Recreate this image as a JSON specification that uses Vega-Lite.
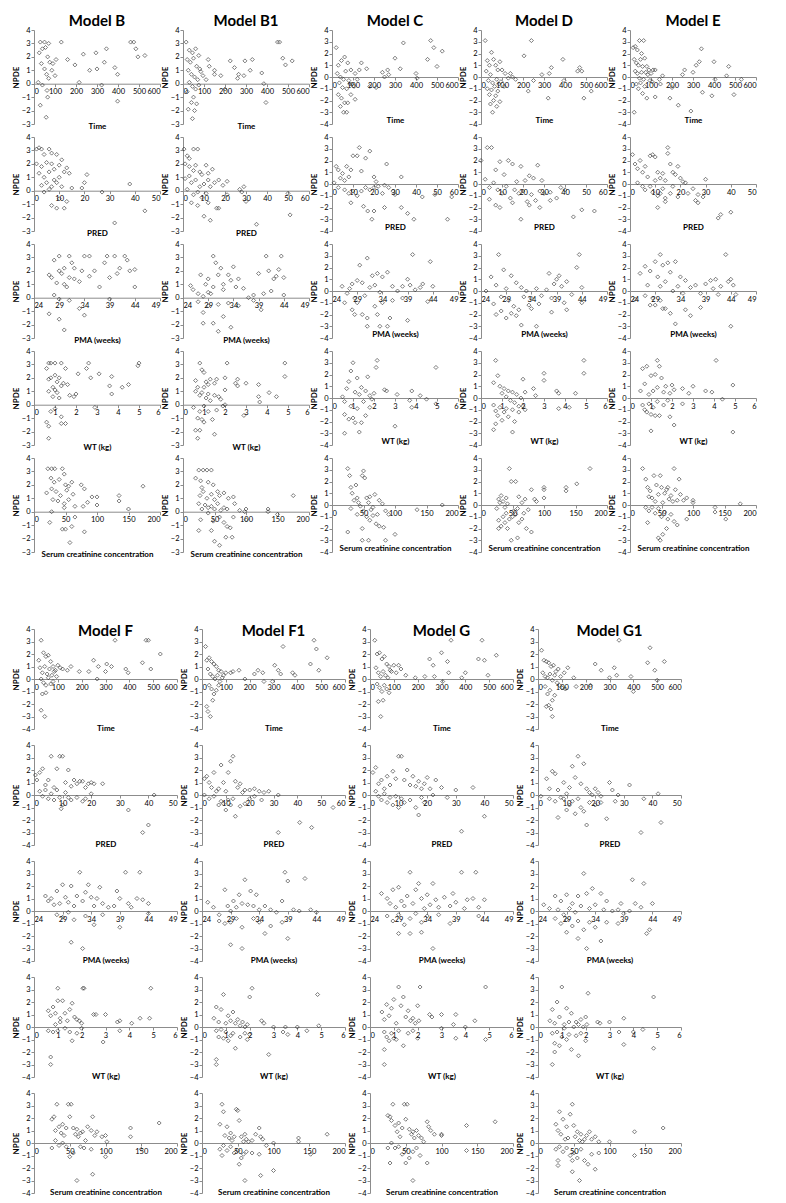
{
"$schema":"https://vega.github.io/schema/vega-lite/v6.json",
"background":"white",
"padding":{"left":12,"top":14,"right":5,"bottom":3},
"spacing":65,
"config":{
"view":{"stroke":null},
"font":"Lato",
"axis":{"grid":false,"domainColor":"#8c8c8c","domainWidth":1,"tickColor":"#8c8c8c","tickSize":3,"labelFont":"Lato","labelFontSize":7.5,"labelColor":"#000","labelPadding":1,"labelOverlap":false,"labelFlush":true,"titleFont":"Lato","titleFontSize":8,"titleFontWeight":"bold","titleColor":"#000"},
"axisX":{"titleBaseline":"middle"},
"axisY":{"titlePadding":1,"tickCount":8,"labelFlush":false},
"point":{"shape":"diamond","filled":false,"color":"#222","size":16,"strokeWidth":0.65,"opacity":0.9},
"title":{"font":"Lato","fontSize":15,"fontWeight":"bold","color":"#000","offset":-3}
},
"datasets":{
"BT":[{"x":30,"y":3.1},{"x":50,"y":3.1},{"x":70,"y":3.0},{"x":130,"y":3.1},{"x":25,"y":2.3},{"x":40,"y":2.6},{"x":55,"y":2.7},{"x":65,"y":2.0},{"x":75,"y":1.6},{"x":90,"y":1.5},{"x":105,"y":1.8},{"x":35,"y":1.5},{"x":50,"y":1.1},{"x":60,"y":0.7},{"x":70,"y":0.4},{"x":85,"y":1.0},{"x":100,"y":0.6},{"x":20,"y":0.1},{"x":40,"y":-0.1},{"x":62,"y":-0.5},{"x":65,"y":-1.0},{"x":30,"y":-1.6},{"x":58,"y":-2.5},{"x":160,"y":1.8},{"x":195,"y":1.4},{"x":215,"y":0.1},{"x":235,"y":2.2},{"x":265,"y":1.0},{"x":295,"y":2.3},{"x":300,"y":1.1},{"x":322,"y":-0.1},{"x":335,"y":1.6},{"x":345,"y":2.6},{"x":385,"y":1.2},{"x":398,"y":0.7},{"x":398,"y":-1.3},{"x":460,"y":3.1},{"x":475,"y":3.1},{"x":485,"y":2.6},{"x":495,"y":2.0},{"x":528,"y":2.1}],
"BP":[{"x":1,"y":3.1},{"x":2,"y":3.2},{"x":3,"y":3.1},{"x":4,"y":2.7},{"x":6,"y":3.1},{"x":7,"y":2.8},{"x":9,"y":2.7},{"x":11,"y":2.3},{"x":1,"y":2.0},{"x":3,"y":1.8},{"x":5,"y":2.1},{"x":7,"y":2.0},{"x":8,"y":1.6},{"x":10,"y":1.9},{"x":12,"y":1.4},{"x":13,"y":1.7},{"x":2,"y":1.3},{"x":4,"y":1.0},{"x":6,"y":1.4},{"x":8,"y":0.8},{"x":10,"y":1.0},{"x":14,"y":1.3},{"x":3,"y":0.4},{"x":5,"y":0.6},{"x":7,"y":0.3},{"x":9,"y":0.6},{"x":11,"y":0.3},{"x":4,"y":-0.1},{"x":6,"y":0.1},{"x":15,"y":0.2},{"x":7,"y":-1.1},{"x":9,"y":-1.3},{"x":12,"y":-1.3},{"x":13,"y":-0.8},{"x":10,"y":-0.6},{"x":21,"y":1.2},{"x":20,"y":0.6},{"x":19,"y":0.2},{"x":27,"y":-0.1},{"x":38,"y":0.5},{"x":32,"y":-2.4},{"x":44,"y":-1.5}],
"BA":[{"x":27,"y":1.7},{"x":27.5,"y":1.5},{"x":28,"y":2.8},{"x":28.5,"y":1.1},{"x":29,"y":3.1},{"x":29,"y":2.0},{"x":29.5,"y":1.8},{"x":30,"y":2.2},{"x":30,"y":1.0},{"x":30.5,"y":0.8},{"x":31,"y":3.1},{"x":31,"y":1.5},{"x":31.5,"y":2.6},{"x":32,"y":1.4},{"x":32,"y":2.2},{"x":33,"y":1.2},{"x":33.5,"y":2.0},{"x":34,"y":3.1},{"x":35,"y":1.6},{"x":35,"y":3.1},{"x":36,"y":2.0},{"x":37,"y":0.8},{"x":38,"y":2.6},{"x":38.5,"y":3.1},{"x":39,"y":1.5},{"x":40,"y":3.1},{"x":40.5,"y":1.8},{"x":41,"y":2.2},{"x":42,"y":3.1},{"x":42.5,"y":2.8},{"x":43,"y":2.0},{"x":44,"y":2.1},{"x":44,"y":0.8},{"x":28,"y":0.2},{"x":29,"y":-0.1},{"x":31,"y":-0.2},{"x":33,"y":-0.8},{"x":34,"y":-1.3},{"x":27,"y":-1.2},{"x":29,"y":-1.6},{"x":30,"y":-2.4},{"x":39,"y":-0.1}],
"BW":[{"x":0.6,"y":2.7},{"x":0.7,"y":3.1},{"x":0.8,"y":3.1},{"x":1.0,"y":3.1},{"x":1.3,"y":3.1},{"x":1.5,"y":2.7},{"x":0.7,"y":1.9},{"x":0.8,"y":2.0},{"x":0.9,"y":1.3},{"x":1.0,"y":2.2},{"x":1.1,"y":1.7},{"x":1.2,"y":2.0},{"x":1.3,"y":1.4},{"x":1.4,"y":1.6},{"x":1.6,"y":1.5},{"x":0.7,"y":1.0},{"x":0.9,"y":0.6},{"x":1.0,"y":1.1},{"x":1.1,"y":0.9},{"x":1.2,"y":0.5},{"x":1.7,"y":0.7},{"x":1.9,"y":0.6},{"x":2.0,"y":0.8},{"x":2.1,"y":2.3},{"x":2.5,"y":2.7},{"x":2.6,"y":3.1},{"x":2.7,"y":2.0},{"x":3.1,"y":2.3},{"x":3.6,"y":1.4},{"x":3.7,"y":0.8},{"x":3.7,"y":2.1},{"x":4.2,"y":1.3},{"x":4.5,"y":1.5},{"x":4.95,"y":2.9},{"x":5.0,"y":3.1},{"x":2.9,"y":-0.2},{"x":0.8,"y":-0.5},{"x":1.0,"y":-0.3},{"x":1.3,"y":-0.9},{"x":0.6,"y":-1.3},{"x":0.7,"y":-1.6},{"x":1.5,"y":-1.4},{"x":1.3,"y":-1.4},{"x":0.7,"y":-2.5}],
"BS":[{"x":22,"y":3.2},{"x":28,"y":3.2},{"x":33,"y":3.2},{"x":45,"y":3.2},{"x":48,"y":2.8},{"x":27,"y":2.5},{"x":32,"y":2.2},{"x":40,"y":2.4},{"x":50,"y":2.0},{"x":55,"y":1.9},{"x":60,"y":2.2},{"x":28,"y":1.7},{"x":35,"y":1.5},{"x":42,"y":1.2},{"x":52,"y":1.6},{"x":62,"y":1.3},{"x":75,"y":2.0},{"x":80,"y":1.7},{"x":20,"y":1.4},{"x":30,"y":0.9},{"x":38,"y":0.8},{"x":48,"y":0.6},{"x":55,"y":0.9},{"x":65,"y":0.4},{"x":78,"y":0.4},{"x":85,"y":0.7},{"x":92,"y":1.1},{"x":100,"y":1.1},{"x":100,"y":0.5},{"x":135,"y":1.2},{"x":135,"y":0.8},{"x":150,"y":0.2},{"x":173,"y":1.9},{"x":28,"y":0.0},{"x":48,"y":0.3},{"x":25,"y":-0.8},{"x":65,"y":-0.4},{"x":60,"y":-1.1},{"x":45,"y":-1.3},{"x":50,"y":-1.3},{"x":80,"y":-1.5},{"x":57,"y":-2.3}],
"B1T":[{"x":15,"y":3.1},{"x":30,"y":2.5},{"x":45,"y":2.3},{"x":60,"y":2.6},{"x":75,"y":2.1},{"x":20,"y":1.8},{"x":35,"y":1.6},{"x":50,"y":1.9},{"x":65,"y":1.3},{"x":80,"y":1.1},{"x":95,"y":0.6},{"x":110,"y":0.3},{"x":25,"y":1.0},{"x":40,"y":0.7},{"x":55,"y":0.5},{"x":70,"y":0.3},{"x":85,"y":0.9},{"x":30,"y":0.1},{"x":45,"y":-0.2},{"x":60,"y":-0.4},{"x":75,"y":-0.1},{"x":20,"y":-0.6},{"x":50,"y":-1.0},{"x":65,"y":-1.5},{"x":40,"y":-1.4},{"x":25,"y":-1.9},{"x":55,"y":-2.0},{"x":45,"y":-2.6},{"x":120,"y":1.8},{"x":125,"y":1.3},{"x":150,"y":0.7},{"x":150,"y":1.0},{"x":180,"y":0.6},{"x":200,"y":-0.4},{"x":225,"y":1.7},{"x":245,"y":1.2},{"x":260,"y":0.4},{"x":265,"y":0.7},{"x":290,"y":0.6},{"x":295,"y":1.7},{"x":320,"y":1.0},{"x":330,"y":1.8},{"x":375,"y":0.8},{"x":385,"y":0.0},{"x":395,"y":-1.4},{"x":450,"y":3.1},{"x":460,"y":3.1},{"x":475,"y":1.9},{"x":488,"y":1.4},{"x":520,"y":1.7}],
"B1P":[{"x":0.5,"y":3.1},{"x":2,"y":2.6},{"x":3,"y":2.4},{"x":5,"y":3.1},{"x":7,"y":3.1},{"x":1,"y":2.0},{"x":3,"y":1.8},{"x":5,"y":1.5},{"x":6,"y":1.9},{"x":8,"y":1.4},{"x":9,"y":1.2},{"x":11,"y":1.9},{"x":12,"y":1.3},{"x":14,"y":1.6},{"x":1,"y":0.9},{"x":3,"y":1.1},{"x":4,"y":0.6},{"x":6,"y":0.8},{"x":8,"y":0.3},{"x":10,"y":0.5},{"x":12,"y":0.8},{"x":13,"y":0.3},{"x":15,"y":0.6},{"x":17,"y":0.8},{"x":19,"y":0.4},{"x":21,"y":0.7},{"x":2,"y":0.1},{"x":5,"y":-0.3},{"x":7,"y":-0.1},{"x":9,"y":-0.5},{"x":11,"y":-0.2},{"x":12,"y":-0.9},{"x":4,"y":-0.9},{"x":7,"y":-1.1},{"x":10,"y":-1.9},{"x":13,"y":-2.2},{"x":16,"y":-1.3},{"x":17,"y":-1.3},{"x":21,"y":-0.3},{"x":27,"y":0.1},{"x":28,"y":-0.1},{"x":29,"y":0.3},{"x":30,"y":-0.8},{"x":35,"y":-2.5},{"x":50,"y":-0.2},{"x":51,"y":-1.8}],
"B1A":[{"x":25.5,"y":0.9},{"x":26,"y":0.6},{"x":27,"y":0.3},{"x":27.5,"y":1.7},{"x":28,"y":0.1},{"x":28.5,"y":1.0},{"x":29,"y":0.4},{"x":29,"y":1.4},{"x":29.5,"y":0.3},{"x":30,"y":3.1},{"x":30,"y":0.8},{"x":30.5,"y":2.6},{"x":31,"y":1.7},{"x":31.5,"y":2.2},{"x":32,"y":1.0},{"x":32,"y":0.6},{"x":33,"y":1.7},{"x":33.5,"y":1.3},{"x":34,"y":2.3},{"x":34.5,"y":0.8},{"x":35,"y":1.4},{"x":36,"y":0.7},{"x":37,"y":0.0},{"x":38,"y":0.2},{"x":39,"y":1.8},{"x":40,"y":0.3},{"x":40.5,"y":3.1},{"x":41,"y":2.0},{"x":41.5,"y":0.5},{"x":42,"y":1.4},{"x":42.5,"y":1.6},{"x":43,"y":2.1},{"x":43.5,"y":3.1},{"x":44,"y":1.5},{"x":44,"y":0.2},{"x":27,"y":-0.3},{"x":28,"y":-1.1},{"x":29,"y":-0.6},{"x":31,"y":-0.5},{"x":33,"y":-0.4},{"x":35,"y":-0.6},{"x":38,"y":-0.2},{"x":39.5,"y":-0.9},{"x":28,"y":-1.9},{"x":30,"y":-1.9},{"x":32,"y":-1.4},{"x":31,"y":-2.5},{"x":33.5,"y":-2.2}],
"B1W":[{"x":0.6,"y":1.8},{"x":0.8,"y":3.1},{"x":0.9,"y":2.6},{"x":1.0,"y":2.4},{"x":1.1,"y":1.7},{"x":1.2,"y":1.5},{"x":1.3,"y":1.9},{"x":1.5,"y":1.6},{"x":1.6,"y":1.9},{"x":0.6,"y":1.0},{"x":0.7,"y":1.3},{"x":0.8,"y":0.7},{"x":0.9,"y":0.9},{"x":1.0,"y":1.3},{"x":1.1,"y":0.5},{"x":1.2,"y":0.8},{"x":1.3,"y":0.3},{"x":1.5,"y":0.7},{"x":1.7,"y":0.6},{"x":1.8,"y":0.4},{"x":2.0,"y":1.1},{"x":2.0,"y":2.0},{"x":2.1,"y":3.1},{"x":2.5,"y":1.6},{"x":2.6,"y":1.9},{"x":2.6,"y":1.4},{"x":3.0,"y":1.6},{"x":3.6,"y":1.5},{"x":3.6,"y":0.6},{"x":3.65,"y":0.2},{"x":4.1,"y":0.9},{"x":4.45,"y":0.6},{"x":4.85,"y":2.1},{"x":4.85,"y":3.1},{"x":0.5,"y":-0.2},{"x":0.8,"y":-0.5},{"x":1.0,"y":-0.1},{"x":1.2,"y":-0.5},{"x":1.4,"y":-1.1},{"x":1.6,"y":-0.4},{"x":1.9,"y":-0.1},{"x":2.0,"y":0.0},{"x":2.9,"y":-0.8},{"x":0.7,"y":-1.0},{"x":0.9,"y":-1.1},{"x":1.0,"y":-1.3},{"x":0.8,"y":-1.9},{"x":0.6,"y":-1.9},{"x":0.7,"y":-2.5},{"x":1.5,"y":-2.2}],
"B1S":[{"x":20,"y":2.5},{"x":25,"y":3.1},{"x":32,"y":3.1},{"x":38,"y":3.1},{"x":45,"y":3.1},{"x":28,"y":2.3},{"x":30,"y":1.8},{"x":40,"y":2.2},{"x":48,"y":2.0},{"x":55,"y":1.5},{"x":27,"y":1.2},{"x":32,"y":1.5},{"x":38,"y":1.0},{"x":45,"y":1.3},{"x":50,"y":0.9},{"x":58,"y":1.2},{"x":65,"y":1.4},{"x":72,"y":1.0},{"x":80,"y":1.1},{"x":82,"y":0.6},{"x":25,"y":0.6},{"x":30,"y":0.2},{"x":35,"y":0.5},{"x":40,"y":0.3},{"x":45,"y":0.4},{"x":50,"y":0.2},{"x":55,"y":0.6},{"x":60,"y":0.1},{"x":65,"y":0.3},{"x":70,"y":0.2},{"x":90,"y":0.1},{"x":98,"y":0.0},{"x":100,"y":0.2},{"x":135,"y":0.2},{"x":135,"y":0.0},{"x":150,"y":-0.2},{"x":175,"y":1.2},{"x":28,"y":-0.6},{"x":40,"y":-0.1},{"x":48,"y":-0.7},{"x":58,"y":-0.4},{"x":65,"y":-0.8},{"x":70,"y":-1.1},{"x":75,"y":-1.2},{"x":80,"y":-0.4},{"x":100,"y":-0.6},{"x":25,"y":-1.4},{"x":45,"y":-1.4},{"x":50,"y":-2.2},{"x":58,"y":-2.5},{"x":68,"y":-1.9},{"x":78,"y":-1.9}],
"CT":[{"x":20,"y":2.5},{"x":30,"y":1.0},{"x":45,"y":1.4},{"x":60,"y":1.7},{"x":75,"y":1.2},{"x":90,"y":0.6},{"x":110,"y":0.3},{"x":25,"y":0.3},{"x":40,"y":0.0},{"x":55,"y":-0.2},{"x":65,"y":0.5},{"x":80,"y":-0.3},{"x":95,"y":-0.6},{"x":105,"y":-0.8},{"x":120,"y":-0.2},{"x":130,"y":0.6},{"x":35,"y":-0.5},{"x":50,"y":-0.9},{"x":70,"y":-1.0},{"x":85,"y":-0.6},{"x":30,"y":-1.5},{"x":45,"y":-1.8},{"x":60,"y":-2.2},{"x":75,"y":-2.2},{"x":90,"y":-1.5},{"x":110,"y":-1.9},{"x":40,"y":-2.5},{"x":55,"y":-3.0},{"x":70,"y":-3.0},{"x":140,"y":1.2},{"x":165,"y":0.7},{"x":180,"y":-0.8},{"x":210,"y":-0.9},{"x":240,"y":0.4},{"x":250,"y":0.0},{"x":265,"y":0.6},{"x":270,"y":0.2},{"x":300,"y":1.6},{"x":325,"y":0.7},{"x":340,"y":2.9},{"x":400,"y":0.3},{"x":405,"y":-0.1},{"x":455,"y":1.5},{"x":470,"y":3.1},{"x":485,"y":2.5},{"x":500,"y":0.9},{"x":525,"y":2.2}],
"CP":[{"x":2,"y":1.5},{"x":3,"y":1.2},{"x":4,"y":0.5},{"x":5,"y":0.9},{"x":6,"y":0.3},{"x":7,"y":1.5},{"x":8,"y":0.6},{"x":9,"y":1.2},{"x":10,"y":2.4},{"x":12,"y":2.4},{"x":13,"y":3.1},{"x":14,"y":1.1},{"x":16,"y":2.2},{"x":18,"y":2.8},{"x":20,"y":0.6},{"x":21,"y":0.2},{"x":22,"y":-0.2},{"x":25,"y":-0.1},{"x":1,"y":0.1},{"x":3,"y":-0.3},{"x":6,"y":-0.5},{"x":8,"y":-0.8},{"x":10,"y":-0.6},{"x":12,"y":-1.0},{"x":14,"y":-0.6},{"x":16,"y":-0.3},{"x":18,"y":-0.5},{"x":20,"y":-0.3},{"x":24,"y":-0.8},{"x":26,"y":1.7},{"x":27,"y":-0.3},{"x":29,"y":-0.6},{"x":30,"y":-0.9},{"x":33,"y":0.6},{"x":9,"y":-1.6},{"x":15,"y":-1.9},{"x":17,"y":-2.3},{"x":20,"y":-2.3},{"x":25,"y":-2.0},{"x":19,"y":-3.0},{"x":33,"y":-2.0},{"x":36,"y":-2.5},{"x":39,"y":-3.0},{"x":43,"y":-1.1},{"x":49,"y":-0.9},{"x":55,"y":-3.0},{"x":57,"y":-1.1}],
"CA":[{"x":26,"y":0.4},{"x":27,"y":-0.2},{"x":27.5,"y":0.2},{"x":28,"y":0.6},{"x":28.5,"y":-0.6},{"x":29,"y":0.9},{"x":29.5,"y":2.2},{"x":30,"y":0.7},{"x":30.5,"y":-0.4},{"x":31,"y":2.8},{"x":31.5,"y":0.3},{"x":32,"y":1.3},{"x":32.5,"y":0.5},{"x":33,"y":1.5},{"x":33.5,"y":-0.1},{"x":34,"y":1.2},{"x":35,"y":1.6},{"x":36,"y":0.4},{"x":37,"y":0.0},{"x":38,"y":0.4},{"x":39,"y":1.0},{"x":39.5,"y":0.5},{"x":40,"y":3.1},{"x":40.5,"y":0.1},{"x":41.5,"y":0.3},{"x":42,"y":0.6},{"x":43.5,"y":2.5},{"x":44,"y":0.4},{"x":26.5,"y":-1.0},{"x":28,"y":-1.6},{"x":28.5,"y":-2.0},{"x":29,"y":-1.0},{"x":30,"y":-2.0},{"x":31,"y":-2.3},{"x":31,"y":-3.0},{"x":32.5,"y":-1.3},{"x":33,"y":-2.0},{"x":33.5,"y":-3.0},{"x":34,"y":-1.0},{"x":35.5,"y":-2.3},{"x":36,"y":-0.8},{"x":38,"y":-0.6},{"x":39,"y":-2.5},{"x":43,"y":-0.9},{"x":35,"y":-3.0}],
"CW":[{"x":0.5,"y":0.1},{"x":0.6,"y":-0.3},{"x":0.7,"y":0.8},{"x":0.8,"y":1.4},{"x":0.9,"y":2.3},{"x":1.0,"y":3.0},{"x":1.1,"y":0.5},{"x":1.2,"y":1.7},{"x":1.3,"y":0.3},{"x":1.4,"y":0.9},{"x":1.5,"y":-0.3},{"x":1.6,"y":0.6},{"x":1.7,"y":1.8},{"x":1.8,"y":0.2},{"x":1.9,"y":-0.1},{"x":2.0,"y":0.4},{"x":2.1,"y":2.6},{"x":2.15,"y":3.2},{"x":2.5,"y":0.7},{"x":2.6,"y":0.6},{"x":3.1,"y":0.3},{"x":3.7,"y":-0.2},{"x":3.8,"y":0.6},{"x":4.2,"y":0.2},{"x":4.5,"y":-0.1},{"x":4.95,"y":2.6},{"x":4.95,"y":-0.5},{"x":0.6,"y":-1.4},{"x":0.8,"y":-1.8},{"x":0.9,"y":-0.7},{"x":1.0,"y":-1.7},{"x":1.1,"y":-2.1},{"x":1.2,"y":-0.9},{"x":1.4,"y":-2.1},{"x":1.6,"y":-1.5},{"x":1.8,"y":-0.8},{"x":0.6,"y":-3.0},{"x":1.3,"y":-2.9},{"x":3.0,"y":-2.4},{"x":3.8,"y":-0.8}],
"CS":[{"x":25,"y":3.1},{"x":28,"y":2.5},{"x":30,"y":1.5},{"x":32,"y":1.0},{"x":35,"y":0.4},{"x":38,"y":1.7},{"x":40,"y":0.6},{"x":42,"y":0.2},{"x":45,"y":-0.1},{"x":48,"y":2.5},{"x":50,"y":2.9},{"x":52,"y":2.3},{"x":55,"y":0.6},{"x":58,"y":0.2},{"x":60,"y":0.7},{"x":62,"y":-0.4},{"x":65,"y":-0.2},{"x":68,"y":0.9},{"x":72,"y":-0.8},{"x":75,"y":0.4},{"x":80,"y":0.1},{"x":85,"y":-0.5},{"x":30,"y":-0.3},{"x":40,"y":-0.8},{"x":50,"y":-0.5},{"x":55,"y":-1.0},{"x":60,"y":-1.3},{"x":65,"y":-0.9},{"x":70,"y":-1.6},{"x":75,"y":-1.8},{"x":82,"y":-1.9},{"x":90,"y":-0.8},{"x":100,"y":-2.5},{"x":25,"y":-2.3},{"x":48,"y":-3.0},{"x":58,"y":-3.0},{"x":85,"y":-3.0},{"x":48,"y":-2.0},{"x":135,"y":-0.4},{"x":175,"y":0.0}],
"DT":[{"x":20,"y":3.1},{"x":30,"y":1.4},{"x":40,"y":1.0},{"x":50,"y":2.1},{"x":60,"y":1.5},{"x":70,"y":1.0},{"x":80,"y":0.6},{"x":90,"y":1.3},{"x":100,"y":0.6},{"x":115,"y":0.3},{"x":130,"y":-0.1},{"x":25,"y":0.5},{"x":35,"y":-0.3},{"x":45,"y":0.2},{"x":55,"y":-0.5},{"x":65,"y":-0.8},{"x":75,"y":-0.2},{"x":85,"y":-0.6},{"x":95,"y":-0.4},{"x":110,"y":-0.8},{"x":30,"y":-1.0},{"x":40,"y":-1.5},{"x":50,"y":-1.1},{"x":60,"y":-2.0},{"x":70,"y":-1.6},{"x":80,"y":-1.2},{"x":90,"y":-2.1},{"x":45,"y":-2.3},{"x":55,"y":-3.0},{"x":75,"y":-2.5},{"x":140,"y":0.3},{"x":150,"y":0.0},{"x":165,"y":-0.2},{"x":205,"y":1.8},{"x":225,"y":-1.2},{"x":240,"y":3.1},{"x":250,"y":-0.3},{"x":290,"y":0.2},{"x":320,"y":-1.8},{"x":325,"y":0.3},{"x":335,"y":0.8},{"x":390,"y":1.5},{"x":395,"y":-0.3},{"x":460,"y":0.5},{"x":470,"y":0.8},{"x":480,"y":0.5},{"x":490,"y":-1.8},{"x":525,"y":-1.2}],
"DP":[{"x":0,"y":2.0},{"x":3,"y":3.1},{"x":5,"y":3.1},{"x":7,"y":1.2},{"x":9,"y":1.9},{"x":11,"y":0.8},{"x":13,"y":2.0},{"x":15,"y":1.7},{"x":17,"y":0.2},{"x":19,"y":1.5},{"x":21,"y":0.3},{"x":23,"y":0.7},{"x":25,"y":0.5},{"x":27,"y":1.6},{"x":29,"y":0.3},{"x":2,"y":0.4},{"x":4,"y":-0.3},{"x":6,"y":0.1},{"x":8,"y":-0.5},{"x":10,"y":-0.8},{"x":12,"y":-0.2},{"x":14,"y":-1.2},{"x":16,"y":-0.5},{"x":18,"y":-0.8},{"x":20,"y":-0.6},{"x":22,"y":-1.5},{"x":24,"y":-0.9},{"x":26,"y":-1.4},{"x":28,"y":-0.6},{"x":30,"y":-0.8},{"x":33,"y":-0.7},{"x":36,"y":-1.2},{"x":38,"y":-0.3},{"x":40,"y":-0.5},{"x":4,"y":-1.3},{"x":7,"y":-1.8},{"x":9,"y":-2.0},{"x":15,"y":-1.6},{"x":19,"y":-3.0},{"x":23,"y":-1.8},{"x":28,"y":-2.0},{"x":33,"y":-1.4},{"x":44,"y":-2.8},{"x":48,"y":-2.2},{"x":54,"y":-2.3}],
"DA":[{"x":25,"y":0.0},{"x":26,"y":1.2},{"x":26.5,"y":-1.1},{"x":27,"y":0.5},{"x":27.5,"y":3.1},{"x":28,"y":-0.5},{"x":28.5,"y":1.8},{"x":29,"y":0.2},{"x":29.5,"y":-0.8},{"x":30,"y":1.3},{"x":30.5,"y":-1.3},{"x":31,"y":0.7},{"x":31.5,"y":-1.6},{"x":32,"y":0.3},{"x":32.5,"y":-0.5},{"x":33,"y":0.0},{"x":33.5,"y":-1.2},{"x":34,"y":-0.6},{"x":35,"y":0.2},{"x":35.5,"y":-1.1},{"x":36,"y":-0.4},{"x":37,"y":0.1},{"x":37.5,"y":1.5},{"x":38,"y":-0.6},{"x":38.5,"y":0.6},{"x":39,"y":1.0},{"x":39.5,"y":1.3},{"x":40,"y":0.4},{"x":40.5,"y":-1.0},{"x":41,"y":0.8},{"x":42,"y":-0.3},{"x":43,"y":2.0},{"x":43.5,"y":3.1},{"x":44,"y":0.3},{"x":44,"y":-1.0},{"x":27,"y":-2.0},{"x":28,"y":-1.7},{"x":29,"y":-2.3},{"x":30,"y":-1.9},{"x":31,"y":-2.1},{"x":32,"y":-2.9},{"x":34,"y":-1.5},{"x":35,"y":-3.0},{"x":38,"y":-1.8},{"x":41,"y":-1.6}],
"DW":[{"x":0.6,"y":1.3},{"x":0.7,"y":3.2},{"x":0.8,"y":1.9},{"x":0.9,"y":1.0},{"x":1.0,"y":0.4},{"x":1.1,"y":0.8},{"x":1.2,"y":0.1},{"x":1.3,"y":0.6},{"x":1.4,"y":-0.2},{"x":1.5,"y":0.5},{"x":1.6,"y":-0.4},{"x":1.7,"y":0.3},{"x":1.8,"y":-0.7},{"x":1.9,"y":0.0},{"x":2.0,"y":1.6},{"x":2.1,"y":0.5},{"x":2.5,"y":0.8},{"x":2.6,"y":0.2},{"x":3.0,"y":2.1},{"x":3.0,"y":1.5},{"x":3.6,"y":0.6},{"x":3.7,"y":0.4},{"x":4.5,"y":0.4},{"x":4.9,"y":3.2},{"x":4.9,"y":2.1},{"x":0.6,"y":-0.6},{"x":0.7,"y":-1.1},{"x":0.8,"y":-1.5},{"x":0.9,"y":-0.8},{"x":1.0,"y":-1.9},{"x":1.1,"y":-1.2},{"x":1.2,"y":-0.9},{"x":1.3,"y":-1.6},{"x":1.5,"y":-1.0},{"x":1.6,"y":-2.0},{"x":1.8,"y":-1.2},{"x":2.0,"y":-0.7},{"x":2.1,"y":-1.0},{"x":0.6,"y":-2.7},{"x":0.7,"y":-2.2},{"x":1.5,"y":-2.9},{"x":3.7,"y":-0.9},{"x":4.2,"y":-0.8}],
"DS":[{"x":25,"y":-0.3},{"x":28,"y":0.5},{"x":30,"y":0.2},{"x":32,"y":0.8},{"x":35,"y":0.3},{"x":38,"y":-0.2},{"x":40,"y":0.6},{"x":42,"y":0.1},{"x":45,"y":3.1},{"x":48,"y":2.0},{"x":52,"y":-0.5},{"x":55,"y":2.0},{"x":58,"y":-0.3},{"x":60,"y":0.7},{"x":65,"y":0.2},{"x":68,"y":-0.7},{"x":70,"y":0.5},{"x":75,"y":-0.4},{"x":80,"y":1.3},{"x":85,"y":0.5},{"x":88,"y":0.3},{"x":100,"y":1.5},{"x":100,"y":0.6},{"x":100,"y":1.3},{"x":135,"y":1.5},{"x":135,"y":1.2},{"x":152,"y":1.8},{"x":173,"y":3.1},{"x":28,"y":-1.3},{"x":32,"y":-1.8},{"x":35,"y":-1.0},{"x":38,"y":-1.5},{"x":42,"y":-2.0},{"x":45,"y":-1.2},{"x":50,"y":-1.0},{"x":55,"y":-0.8},{"x":60,"y":-1.5},{"x":65,"y":-1.2},{"x":72,"y":-2.0},{"x":80,"y":-2.3},{"x":48,"y":-3.0},{"x":58,"y":-2.8},{"x":28,"y":-2.0},{"x":40,"y":-0.7}],
"ET":[{"x":15,"y":2.5},{"x":25,"y":2.6},{"x":35,"y":2.3},{"x":45,"y":3.1},{"x":55,"y":2.0},{"x":65,"y":3.1},{"x":20,"y":1.5},{"x":30,"y":1.2},{"x":40,"y":1.0},{"x":50,"y":1.5},{"x":60,"y":0.9},{"x":70,"y":1.6},{"x":80,"y":0.9},{"x":90,"y":0.6},{"x":100,"y":0.3},{"x":110,"y":0.6},{"x":120,"y":0.6},{"x":25,"y":0.5},{"x":35,"y":0.3},{"x":45,"y":-0.1},{"x":55,"y":0.4},{"x":65,"y":-0.2},{"x":75,"y":0.4},{"x":85,"y":0.2},{"x":95,"y":-0.3},{"x":30,"y":-0.6},{"x":40,"y":-1.0},{"x":50,"y":-0.5},{"x":60,"y":-1.4},{"x":70,"y":-0.8},{"x":80,"y":-1.8},{"x":105,"y":-0.4},{"x":120,"y":-1.7},{"x":140,"y":-0.2},{"x":145,"y":-0.6},{"x":155,"y":0.1},{"x":190,"y":-1.8},{"x":200,"y":-0.9},{"x":250,"y":0.2},{"x":260,"y":0.6},{"x":300,"y":0.4},{"x":315,"y":1.0},{"x":330,"y":1.3},{"x":340,"y":2.4},{"x":345,"y":-1.3},{"x":390,"y":-1.6},{"x":400,"y":1.3},{"x":405,"y":-0.2},{"x":460,"y":0.1},{"x":470,"y":0.9},{"x":495,"y":-1.5},{"x":530,"y":-0.2},{"x":230,"y":-2.4},{"x":290,"y":-2.9},{"x":20,"y":-3.0}],
"EP":[{"x":1,"y":2.5},{"x":2,"y":1.7},{"x":3,"y":1.3},{"x":4,"y":2.0},{"x":5,"y":1.0},{"x":6,"y":1.5},{"x":7,"y":0.6},{"x":8,"y":2.4},{"x":9,"y":2.5},{"x":10,"y":2.3},{"x":11,"y":1.0},{"x":12,"y":0.5},{"x":13,"y":0.9},{"x":14,"y":0.3},{"x":15,"y":3.1},{"x":15,"y":2.6},{"x":16,"y":1.7},{"x":17,"y":1.0},{"x":18,"y":0.8},{"x":19,"y":1.5},{"x":20,"y":0.5},{"x":21,"y":0.2},{"x":22,"y":0.1},{"x":3,"y":0.1},{"x":5,"y":-0.2},{"x":6,"y":-0.5},{"x":8,"y":-0.2},{"x":9,"y":-0.7},{"x":10,"y":0.3},{"x":11,"y":-1.0},{"x":12,"y":-0.8},{"x":13,"y":-0.4},{"x":14,"y":-1.2},{"x":16,"y":-0.8},{"x":17,"y":-0.2},{"x":19,"y":-1.1},{"x":23,"y":-0.8},{"x":25,"y":-0.4},{"x":26,"y":-1.4},{"x":27,"y":-0.9},{"x":29,"y":-1.1},{"x":30,"y":0.4},{"x":11,"y":-2.0},{"x":14,"y":-1.5},{"x":35,"y":-2.9},{"x":36,"y":-2.6},{"x":40,"y":-2.4},{"x":27,"y":-1.6}],
"EA":[{"x":25,"y":-0.7},{"x":26,"y":1.5},{"x":27,"y":2.1},{"x":27.5,"y":0.5},{"x":28,"y":1.7},{"x":28.5,"y":-0.6},{"x":29,"y":2.5},{"x":29.5,"y":1.2},{"x":30,"y":3.1},{"x":30,"y":0.4},{"x":30.5,"y":2.2},{"x":31,"y":0.8},{"x":31.5,"y":2.4},{"x":32,"y":1.6},{"x":32.5,"y":0.0},{"x":33,"y":2.5},{"x":33.5,"y":0.4},{"x":34,"y":1.2},{"x":34.5,"y":-0.2},{"x":35,"y":0.9},{"x":36,"y":0.3},{"x":37,"y":0.5},{"x":38,"y":-0.2},{"x":39,"y":0.6},{"x":40,"y":0.9},{"x":40.5,"y":0.2},{"x":41,"y":1.0},{"x":41.5,"y":-0.3},{"x":42,"y":0.4},{"x":43,"y":3.1},{"x":43.5,"y":0.8},{"x":44,"y":1.0},{"x":44.5,"y":0.5},{"x":45,"y":-0.3},{"x":27,"y":-0.4},{"x":28,"y":-1.2},{"x":29,"y":-1.2},{"x":30,"y":-0.8},{"x":31,"y":-1.5},{"x":32,"y":-1.9},{"x":33,"y":-2.8},{"x":35,"y":-1.6},{"x":36,"y":-2.1},{"x":38,"y":-1.4},{"x":44,"y":-3.0},{"x":30.5,"y":-1.5}],
"EW":[{"x":0.5,"y":0.6},{"x":0.6,"y":2.5},{"x":0.7,"y":1.2},{"x":0.8,"y":2.7},{"x":0.9,"y":0.3},{"x":1.0,"y":1.9},{"x":1.1,"y":0.6},{"x":1.2,"y":2.0},{"x":1.3,"y":0.9},{"x":1.4,"y":2.7},{"x":1.5,"y":1.7},{"x":1.6,"y":0.5},{"x":1.7,"y":1.0},{"x":1.8,"y":-0.2},{"x":1.9,"y":0.4},{"x":2.0,"y":1.1},{"x":2.1,"y":0.7},{"x":2.5,"y":0.8},{"x":2.8,"y":0.4},{"x":3.0,"y":1.0},{"x":3.6,"y":0.6},{"x":3.9,"y":0.5},{"x":4.1,"y":3.2},{"x":4.4,"y":-0.1},{"x":4.9,"y":1.1},{"x":0.6,"y":-0.6},{"x":0.7,"y":-1.0},{"x":0.8,"y":-1.2},{"x":0.9,"y":-0.5},{"x":1.0,"y":-1.4},{"x":1.1,"y":-0.8},{"x":1.2,"y":-1.5},{"x":1.3,"y":-0.3},{"x":1.4,"y":-1.5},{"x":1.6,"y":-0.6},{"x":1.9,"y":-1.6},{"x":2.1,"y":-2.3},{"x":1.0,"y":-2.8},{"x":1.3,"y":3.2},{"x":2.5,"y":-0.5},{"x":4.9,"y":-2.9}],
"ES":[{"x":20,"y":3.1},{"x":25,"y":2.2},{"x":28,"y":1.5},{"x":30,"y":0.7},{"x":32,"y":1.2},{"x":35,"y":0.6},{"x":38,"y":2.5},{"x":40,"y":0.3},{"x":42,"y":1.7},{"x":45,"y":0.9},{"x":48,"y":2.5},{"x":50,"y":1.5},{"x":52,"y":0.2},{"x":55,"y":1.0},{"x":58,"y":1.3},{"x":60,"y":1.5},{"x":62,"y":0.5},{"x":65,"y":0.8},{"x":68,"y":0.3},{"x":70,"y":3.1},{"x":72,"y":1.3},{"x":75,"y":0.4},{"x":78,"y":2.2},{"x":80,"y":0.9},{"x":85,"y":0.4},{"x":90,"y":0.6},{"x":100,"y":0.4},{"x":100,"y":0.2},{"x":25,"y":-0.2},{"x":30,"y":-0.5},{"x":35,"y":-0.2},{"x":40,"y":-0.7},{"x":45,"y":-0.3},{"x":50,"y":-1.0},{"x":55,"y":-0.6},{"x":60,"y":-1.2},{"x":65,"y":-0.8},{"x":70,"y":-1.4},{"x":75,"y":-1.7},{"x":90,"y":-1.2},{"x":28,"y":-1.5},{"x":45,"y":-2.8},{"x":52,"y":-2.5},{"x":58,"y":-2.0},{"x":48,"y":-3.0},{"x":135,"y":-0.2},{"x":135,"y":-0.6},{"x":152,"y":-1.2},{"x":175,"y":0.1}],
"FT":[{"x":20,"y":1.5},{"x":30,"y":3.1},{"x":40,"y":2.1},{"x":50,"y":1.8},{"x":60,"y":1.9},{"x":70,"y":1.4},{"x":80,"y":1.0},{"x":90,"y":0.7},{"x":100,"y":1.1},{"x":110,"y":0.9},{"x":120,"y":0.8},{"x":25,"y":0.9},{"x":35,"y":0.5},{"x":45,"y":1.0},{"x":55,"y":0.4},{"x":65,"y":0.8},{"x":75,"y":0.3},{"x":85,"y":0.6},{"x":95,"y":0.2},{"x":30,"y":0.0},{"x":40,"y":-0.3},{"x":50,"y":-0.5},{"x":60,"y":0.1},{"x":70,"y":-0.4},{"x":80,"y":-0.2},{"x":35,"y":-1.2},{"x":50,"y":-1.1},{"x":30,"y":-2.5},{"x":45,"y":-3.0},{"x":140,"y":0.7},{"x":155,"y":1.0},{"x":190,"y":0.6},{"x":230,"y":0.6},{"x":250,"y":1.5},{"x":265,"y":0.0},{"x":270,"y":1.0},{"x":300,"y":0.6},{"x":305,"y":1.2},{"x":325,"y":1.0},{"x":340,"y":3.1},{"x":385,"y":0.8},{"x":395,"y":0.5},{"x":455,"y":1.3},{"x":470,"y":3.1},{"x":480,"y":3.1},{"x":490,"y":0.8},{"x":530,"y":2.0}],
"FP":[{"x":0.5,"y":1.6},{"x":1,"y":1.2},{"x":2,"y":1.8},{"x":3,"y":2.1},{"x":4,"y":0.8},{"x":5,"y":1.2},{"x":6,"y":3.1},{"x":7,"y":0.6},{"x":8,"y":2.1},{"x":9,"y":3.1},{"x":10,"y":3.1},{"x":11,"y":1.0},{"x":12,"y":2.0},{"x":13,"y":0.7},{"x":14,"y":1.2},{"x":15,"y":0.9},{"x":16,"y":1.1},{"x":17,"y":1.1},{"x":18,"y":0.6},{"x":19,"y":0.9},{"x":20,"y":1.0},{"x":21,"y":0.9},{"x":24,"y":0.9},{"x":2,"y":0.3},{"x":3,"y":-0.1},{"x":4,"y":0.4},{"x":5,"y":-0.3},{"x":6,"y":0.1},{"x":7,"y":-0.4},{"x":8,"y":0.4},{"x":9,"y":-0.2},{"x":10,"y":-0.8},{"x":11,"y":0.2},{"x":12,"y":-0.2},{"x":13,"y":-0.4},{"x":15,"y":-0.2},{"x":17,"y":-0.5},{"x":18,"y":-0.3},{"x":20,"y":0.1},{"x":9.5,"y":-1.1},{"x":33,"y":-1.2},{"x":38,"y":-3.0},{"x":40,"y":-2.4},{"x":42,"y":0.0}],
"FA":[{"x":26,"y":1.2},{"x":26.5,"y":0.8},{"x":27,"y":1.0},{"x":27.5,"y":0.5},{"x":28,"y":1.6},{"x":28.5,"y":0.6},{"x":29,"y":2.1},{"x":29.5,"y":1.1},{"x":30,"y":0.7},{"x":30.5,"y":2.0},{"x":31,"y":0.4},{"x":31.5,"y":1.2},{"x":32,"y":3.1},{"x":32.5,"y":0.8},{"x":33,"y":1.5},{"x":33.5,"y":2.1},{"x":34,"y":1.1},{"x":34.5,"y":0.4},{"x":35,"y":1.0},{"x":35.5,"y":1.9},{"x":36,"y":0.6},{"x":37,"y":0.3},{"x":38,"y":0.4},{"x":38.5,"y":1.6},{"x":39,"y":1.0},{"x":40,"y":3.1},{"x":40.5,"y":0.6},{"x":41,"y":0.3},{"x":42,"y":1.0},{"x":42.5,"y":3.1},{"x":43,"y":0.9},{"x":44,"y":0.6},{"x":44,"y":-0.2},{"x":28,"y":-0.3},{"x":29,"y":-0.5},{"x":30,"y":-0.1},{"x":31,"y":-0.7},{"x":33,"y":-0.4},{"x":34.5,"y":-1.1},{"x":36,"y":-0.3},{"x":39,"y":-1.3},{"x":30.5,"y":-2.5},{"x":32.5,"y":-3.0}],
"FW":[{"x":0.6,"y":1.3},{"x":0.7,"y":0.9},{"x":0.8,"y":1.6},{"x":0.9,"y":1.1},{"x":1.0,"y":2.1},{"x":1.1,"y":0.7},{"x":1.2,"y":2.1},{"x":1.3,"y":1.1},{"x":1.4,"y":0.5},{"x":1.5,"y":1.4},{"x":1.6,"y":1.9},{"x":1.7,"y":0.8},{"x":1.8,"y":0.6},{"x":1.9,"y":0.5},{"x":2.0,"y":0.3},{"x":2.05,"y":3.1},{"x":2.1,"y":3.1},{"x":1.0,"y":3.1},{"x":2.5,"y":1.0},{"x":2.6,"y":1.0},{"x":3.0,"y":1.0},{"x":3.5,"y":0.4},{"x":3.6,"y":0.5},{"x":4.1,"y":0.3},{"x":4.45,"y":0.7},{"x":4.85,"y":0.7},{"x":4.9,"y":3.1},{"x":0.6,"y":-0.3},{"x":0.8,"y":-0.4},{"x":0.9,"y":0.2},{"x":1.0,"y":-0.3},{"x":1.1,"y":0.4},{"x":1.3,"y":-0.1},{"x":1.5,"y":-0.4},{"x":1.6,"y":-1.1},{"x":1.8,"y":-0.5},{"x":2.0,"y":-0.1},{"x":3.6,"y":-0.3},{"x":2.9,"y":-1.2},{"x":0.7,"y":-2.4},{"x":0.7,"y":-3.0}],
"FS":[{"x":25,"y":1.9},{"x":28,"y":2.1},{"x":30,"y":1.0},{"x":32,"y":3.1},{"x":35,"y":1.3},{"x":38,"y":0.8},{"x":40,"y":1.5},{"x":42,"y":0.6},{"x":45,"y":1.2},{"x":48,"y":3.1},{"x":50,"y":2.1},{"x":52,"y":3.1},{"x":55,"y":1.2},{"x":58,"y":0.7},{"x":60,"y":1.1},{"x":62,"y":0.5},{"x":65,"y":0.8},{"x":68,"y":0.9},{"x":72,"y":0.2},{"x":75,"y":1.3},{"x":80,"y":1.0},{"x":82,"y":2.1},{"x":85,"y":0.6},{"x":88,"y":0.9},{"x":95,"y":0.5},{"x":100,"y":0.6},{"x":102,"y":0.1},{"x":135,"y":1.2},{"x":135,"y":0.5},{"x":175,"y":1.6},{"x":25,"y":-0.4},{"x":30,"y":0.2},{"x":35,"y":-0.2},{"x":40,"y":0.0},{"x":45,"y":-0.3},{"x":50,"y":-1.1},{"x":55,"y":-0.8},{"x":65,"y":-0.3},{"x":70,"y":-0.4},{"x":80,"y":-0.5},{"x":100,"y":-1.1},{"x":150,"y":-0.5},{"x":60,"y":-3.0},{"x":82,"y":-2.5}],
"F1T":[{"x":15,"y":2.6},{"x":20,"y":1.5},{"x":30,"y":1.7},{"x":40,"y":1.4},{"x":50,"y":1.2},{"x":60,"y":1.0},{"x":70,"y":0.7},{"x":80,"y":0.6},{"x":90,"y":0.3},{"x":100,"y":0.5},{"x":120,"y":0.5},{"x":25,"y":0.8},{"x":35,"y":0.4},{"x":45,"y":0.2},{"x":55,"y":0.0},{"x":65,"y":0.3},{"x":75,"y":-0.2},{"x":85,"y":0.1},{"x":30,"y":-0.5},{"x":40,"y":-0.8},{"x":50,"y":-1.2},{"x":60,"y":-0.9},{"x":70,"y":-0.5},{"x":45,"y":-1.7},{"x":20,"y":-2.2},{"x":25,"y":-2.6},{"x":35,"y":-3.0},{"x":130,"y":0.6},{"x":155,"y":0.7},{"x":180,"y":0.0},{"x":220,"y":0.4},{"x":235,"y":0.7},{"x":255,"y":0.5},{"x":260,"y":-0.2},{"x":295,"y":-0.2},{"x":305,"y":1.1},{"x":320,"y":0.7},{"x":330,"y":0.4},{"x":340,"y":2.6},{"x":380,"y":0.5},{"x":390,"y":0.3},{"x":455,"y":1.2},{"x":470,"y":3.1},{"x":480,"y":2.4},{"x":490,"y":0.7},{"x":525,"y":1.7}],
"F1P":[{"x":1,"y":1.3},{"x":2,"y":1.5},{"x":3,"y":1.0},{"x":4,"y":0.6},{"x":5,"y":1.8},{"x":6,"y":0.3},{"x":7,"y":0.5},{"x":8,"y":2.4},{"x":9,"y":1.0},{"x":10,"y":0.3},{"x":11,"y":1.8},{"x":12,"y":2.7},{"x":13,"y":3.1},{"x":14,"y":1.1},{"x":15,"y":0.6},{"x":16,"y":0.9},{"x":17,"y":0.2},{"x":18,"y":0.4},{"x":20,"y":0.4},{"x":22,"y":0.5},{"x":24,"y":0.3},{"x":26,"y":0.2},{"x":28,"y":0.3},{"x":1,"y":0.0},{"x":3,"y":-0.3},{"x":5,"y":-0.1},{"x":7,"y":-0.8},{"x":8,"y":-0.5},{"x":9,"y":-0.7},{"x":10,"y":-1.2},{"x":11,"y":-0.4},{"x":12,"y":-0.8},{"x":13,"y":-0.3},{"x":14,"y":-1.7},{"x":16,"y":-0.9},{"x":18,"y":-0.7},{"x":20,"y":-0.3},{"x":22,"y":-0.1},{"x":25,"y":-0.4},{"x":32,"y":0.0},{"x":32,"y":-3.0},{"x":41,"y":-2.2},{"x":46,"y":-2.6},{"x":55,"y":-1.0}],
"F1A":[{"x":25,"y":0.7},{"x":26,"y":0.3},{"x":27,"y":-0.3},{"x":28,"y":1.7},{"x":28.5,"y":0.4},{"x":29,"y":0.0},{"x":29.5,"y":0.8},{"x":30,"y":0.3},{"x":30.5,"y":1.3},{"x":31,"y":0.6},{"x":31.5,"y":2.5},{"x":32,"y":0.5},{"x":32.5,"y":1.6},{"x":33,"y":0.4},{"x":33.5,"y":1.3},{"x":34,"y":0.1},{"x":35,"y":0.4},{"x":36,"y":0.1},{"x":37,"y":-0.1},{"x":38,"y":0.8},{"x":38.5,"y":3.1},{"x":39,"y":2.4},{"x":40,"y":0.1},{"x":41,"y":0.0},{"x":42,"y":2.6},{"x":43,"y":0.1},{"x":44,"y":-0.1},{"x":27,"y":-0.8},{"x":28,"y":-1.0},{"x":29,"y":-0.9},{"x":30,"y":-0.6},{"x":31,"y":-1.3},{"x":33,"y":-0.6},{"x":34,"y":-0.9},{"x":35,"y":-1.8},{"x":36,"y":-1.2},{"x":38,"y":-0.9},{"x":39,"y":-2.2},{"x":29,"y":-2.7},{"x":31,"y":-3.0}],
"F1W":[{"x":0.5,"y":0.7},{"x":0.6,"y":1.6},{"x":0.7,"y":0.4},{"x":0.8,"y":1.4},{"x":0.9,"y":2.6},{"x":1.0,"y":0.3},{"x":1.1,"y":0.9},{"x":1.2,"y":0.5},{"x":1.3,"y":1.2},{"x":1.4,"y":0.3},{"x":1.5,"y":0.6},{"x":1.6,"y":0.1},{"x":1.7,"y":0.4},{"x":1.8,"y":0.0},{"x":1.9,"y":0.2},{"x":2.0,"y":2.4},{"x":2.1,"y":3.1},{"x":2.5,"y":0.5},{"x":2.6,"y":0.3},{"x":3.0,"y":0.0},{"x":3.5,"y":0.0},{"x":4.0,"y":0.0},{"x":4.85,"y":2.6},{"x":4.9,"y":0.1},{"x":0.6,"y":-0.3},{"x":0.7,"y":-0.8},{"x":0.8,"y":-0.2},{"x":0.9,"y":-0.9},{"x":1.0,"y":-0.4},{"x":1.1,"y":-1.1},{"x":1.2,"y":-0.7},{"x":1.3,"y":-0.5},{"x":1.4,"y":-1.7},{"x":1.6,"y":-0.8},{"x":1.8,"y":-0.5},{"x":1.9,"y":-1.0},{"x":2.0,"y":-0.6},{"x":3.4,"y":-0.4},{"x":3.6,"y":-0.6},{"x":4.4,"y":-0.3},{"x":0.6,"y":-2.6},{"x":0.6,"y":-3.0},{"x":2.8,"y":-2.2}],
"F1S":[{"x":25,"y":1.5},{"x":28,"y":3.1},{"x":30,"y":2.5},{"x":32,"y":0.6},{"x":35,"y":1.3},{"x":38,"y":0.4},{"x":40,"y":0.8},{"x":42,"y":0.2},{"x":45,"y":0.5},{"x":48,"y":2.7},{"x":50,"y":2.6},{"x":52,"y":1.8},{"x":55,"y":0.5},{"x":58,"y":0.1},{"x":60,"y":0.7},{"x":62,"y":0.3},{"x":65,"y":0.1},{"x":70,"y":0.2},{"x":75,"y":0.7},{"x":80,"y":1.2},{"x":82,"y":0.5},{"x":85,"y":0.3},{"x":100,"y":0.0},{"x":135,"y":0.4},{"x":135,"y":0.1},{"x":175,"y":0.7},{"x":25,"y":-0.5},{"x":30,"y":-0.2},{"x":35,"y":-0.6},{"x":40,"y":-0.3},{"x":45,"y":-0.8},{"x":50,"y":-0.6},{"x":55,"y":-1.2},{"x":58,"y":-0.9},{"x":62,"y":-0.7},{"x":70,"y":-0.8},{"x":80,"y":-0.9},{"x":90,"y":-0.2},{"x":100,"y":-2.2},{"x":152,"y":-0.9},{"x":28,"y":-1.0},{"x":52,"y":-1.7},{"x":60,"y":-3.0},{"x":82,"y":-2.6}],
"GT":[{"x":20,"y":3.1},{"x":30,"y":2.0},{"x":40,"y":2.1},{"x":50,"y":1.6},{"x":60,"y":1.8},{"x":70,"y":1.2},{"x":80,"y":1.0},{"x":90,"y":0.6},{"x":100,"y":1.1},{"x":110,"y":0.5},{"x":120,"y":1.1},{"x":25,"y":0.9},{"x":35,"y":0.5},{"x":45,"y":0.2},{"x":55,"y":0.6},{"x":65,"y":0.3},{"x":75,"y":0.1},{"x":85,"y":0.7},{"x":30,"y":-0.4},{"x":40,"y":-0.7},{"x":50,"y":-1.0},{"x":60,"y":-0.5},{"x":70,"y":-0.8},{"x":80,"y":-1.1},{"x":35,"y":-1.8},{"x":55,"y":-1.7},{"x":45,"y":-3.0},{"x":130,"y":0.8},{"x":150,"y":0.3},{"x":190,"y":0.1},{"x":230,"y":0.2},{"x":250,"y":1.6},{"x":265,"y":1.1},{"x":270,"y":0.2},{"x":300,"y":2.1},{"x":305,"y":-0.2},{"x":325,"y":1.4},{"x":330,"y":0.5},{"x":340,"y":3.1},{"x":385,"y":0.1},{"x":400,"y":0.5},{"x":455,"y":1.6},{"x":470,"y":3.1},{"x":480,"y":1.5},{"x":495,"y":0.3},{"x":530,"y":1.9}],
"GP":[{"x":1,"y":1.8},{"x":2,"y":2.2},{"x":3,"y":0.9},{"x":4,"y":1.2},{"x":5,"y":0.5},{"x":6,"y":1.5},{"x":7,"y":0.8},{"x":8,"y":1.9},{"x":9,"y":1.3},{"x":10,"y":3.1},{"x":11,"y":3.1},{"x":12,"y":1.2},{"x":13,"y":2.0},{"x":14,"y":0.8},{"x":15,"y":1.5},{"x":16,"y":0.7},{"x":17,"y":1.1},{"x":18,"y":0.5},{"x":19,"y":0.9},{"x":20,"y":1.4},{"x":21,"y":0.5},{"x":23,"y":1.2},{"x":25,"y":0.6},{"x":30,"y":0.4},{"x":36,"y":0.6},{"x":2,"y":0.3},{"x":3,"y":-0.1},{"x":4,"y":-0.4},{"x":5,"y":0.1},{"x":6,"y":-0.6},{"x":7,"y":-0.2},{"x":8,"y":-0.8},{"x":9,"y":-0.1},{"x":10,"y":-1.0},{"x":11,"y":-0.3},{"x":12,"y":-0.6},{"x":14,"y":-0.4},{"x":16,"y":-1.0},{"x":18,"y":-0.2},{"x":19,"y":-0.6},{"x":22,"y":0.0},{"x":27,"y":-0.2},{"x":17,"y":-1.6},{"x":32,"y":-2.9},{"x":40,"y":-1.7}],
"GA":[{"x":26,"y":1.4},{"x":27,"y":1.0},{"x":27.5,"y":0.6},{"x":28,"y":1.7},{"x":28.5,"y":0.3},{"x":29,"y":1.9},{"x":29.5,"y":0.8},{"x":30,"y":0.4},{"x":30.5,"y":1.2},{"x":31,"y":3.1},{"x":31.5,"y":0.6},{"x":32,"y":1.7},{"x":32.5,"y":2.2},{"x":33,"y":1.0},{"x":33.5,"y":0.2},{"x":34,"y":1.3},{"x":34.5,"y":0.5},{"x":35,"y":2.2},{"x":35.5,"y":0.9},{"x":36,"y":0.3},{"x":37,"y":1.1},{"x":38,"y":0.4},{"x":38.5,"y":1.4},{"x":39,"y":0.7},{"x":40,"y":3.1},{"x":40.5,"y":0.2},{"x":41,"y":0.9},{"x":42,"y":1.0},{"x":42.5,"y":3.1},{"x":43,"y":0.3},{"x":44,"y":0.9},{"x":27,"y":-0.4},{"x":28,"y":-0.8},{"x":29,"y":-0.3},{"x":30,"y":-1.1},{"x":31,"y":-0.6},{"x":32,"y":-0.2},{"x":33,"y":-0.9},{"x":34,"y":-0.4},{"x":36,"y":-0.3},{"x":38,"y":-1.0},{"x":43,"y":-0.4},{"x":29,"y":-1.8},{"x":31,"y":-1.8},{"x":33,"y":-1.7},{"x":35,"y":-3.0}],
"GW":[{"x":0.5,"y":1.2},{"x":0.6,"y":0.6},{"x":0.7,"y":1.8},{"x":0.8,"y":0.9},{"x":0.9,"y":1.5},{"x":1.0,"y":2.2},{"x":1.1,"y":0.3},{"x":1.2,"y":3.2},{"x":1.3,"y":1.7},{"x":1.4,"y":2.4},{"x":1.5,"y":0.8},{"x":1.6,"y":1.3},{"x":1.7,"y":0.5},{"x":1.8,"y":0.7},{"x":1.9,"y":0.3},{"x":2.0,"y":1.7},{"x":2.1,"y":3.2},{"x":2.05,"y":0.5},{"x":2.5,"y":1.0},{"x":2.6,"y":0.8},{"x":3.0,"y":1.0},{"x":3.0,"y":-0.1},{"x":3.5,"y":0.2},{"x":3.6,"y":1.0},{"x":4.0,"y":0.0},{"x":4.4,"y":0.5},{"x":4.85,"y":3.2},{"x":0.6,"y":-0.4},{"x":0.7,"y":-0.8},{"x":0.8,"y":-1.1},{"x":0.9,"y":-0.5},{"x":1.0,"y":-0.9},{"x":1.1,"y":-1.0},{"x":1.2,"y":-0.3},{"x":1.4,"y":-1.5},{"x":1.6,"y":-0.5},{"x":1.8,"y":-0.3},{"x":2.0,"y":-0.9},{"x":3.6,"y":-0.9},{"x":4.85,"y":-1.0},{"x":0.6,"y":-1.8},{"x":0.6,"y":-3.0}],
"GS":[{"x":25,"y":2.2},{"x":28,"y":2.1},{"x":30,"y":1.8},{"x":32,"y":3.1},{"x":35,"y":1.4},{"x":38,"y":0.9},{"x":40,"y":1.6},{"x":42,"y":0.5},{"x":45,"y":1.2},{"x":48,"y":3.1},{"x":50,"y":1.9},{"x":52,"y":3.1},{"x":55,"y":1.1},{"x":58,"y":0.7},{"x":60,"y":0.9},{"x":62,"y":0.4},{"x":65,"y":1.0},{"x":68,"y":0.6},{"x":72,"y":0.4},{"x":75,"y":0.1},{"x":80,"y":1.7},{"x":82,"y":1.3},{"x":85,"y":1.0},{"x":90,"y":0.7},{"x":100,"y":0.6},{"x":100,"y":0.7},{"x":135,"y":1.4},{"x":175,"y":1.7},{"x":25,"y":-0.4},{"x":30,"y":0.0},{"x":35,"y":-0.4},{"x":40,"y":-0.3},{"x":45,"y":-0.9},{"x":50,"y":-0.5},{"x":55,"y":-1.2},{"x":60,"y":-0.7},{"x":65,"y":-0.4},{"x":70,"y":-1.0},{"x":80,"y":-1.6},{"x":135,"y":-0.6},{"x":28,"y":-1.6},{"x":50,"y":-1.6},{"x":60,"y":-3.0}],
"G1T":[{"x":15,"y":2.3},{"x":25,"y":1.5},{"x":35,"y":1.4},{"x":45,"y":1.3},{"x":55,"y":1.0},{"x":65,"y":1.1},{"x":75,"y":0.6},{"x":85,"y":0.8},{"x":95,"y":0.2},{"x":110,"y":0.5},{"x":125,"y":0.9},{"x":20,"y":0.5},{"x":30,"y":0.2},{"x":40,"y":0.1},{"x":50,"y":0.4},{"x":60,"y":-0.1},{"x":70,"y":0.3},{"x":80,"y":-0.3},{"x":90,"y":-0.5},{"x":100,"y":-0.7},{"x":115,"y":-0.8},{"x":30,"y":-0.6},{"x":40,"y":-1.2},{"x":50,"y":-0.9},{"x":60,"y":-1.7},{"x":70,"y":-1.3},{"x":45,"y":-2.1},{"x":55,"y":-2.4},{"x":35,"y":-2.2},{"x":60,"y":-3.0},{"x":150,"y":0.1},{"x":160,"y":-0.6},{"x":220,"y":-0.5},{"x":240,"y":1.2},{"x":265,"y":0.7},{"x":300,"y":0.1},{"x":320,"y":0.9},{"x":330,"y":0.3},{"x":340,"y":3.1},{"x":390,"y":0.2},{"x":400,"y":-1.0},{"x":460,"y":1.3},{"x":470,"y":2.5},{"x":490,"y":0.7},{"x":500,"y":-0.1},{"x":530,"y":1.4}],
"G1P":[{"x":1,"y":-0.1},{"x":3,"y":1.3},{"x":4,"y":0.5},{"x":5,"y":1.9},{"x":6,"y":1.7},{"x":7,"y":0.4},{"x":8,"y":-0.2},{"x":9,"y":1.0},{"x":10,"y":0.1},{"x":11,"y":0.6},{"x":12,"y":2.3},{"x":13,"y":1.4},{"x":14,"y":3.1},{"x":15,"y":0.9},{"x":16,"y":2.5},{"x":17,"y":0.5},{"x":18,"y":0.2},{"x":19,"y":0.0},{"x":20,"y":0.5},{"x":21,"y":0.2},{"x":22,"y":-0.1},{"x":25,"y":1.0},{"x":26,"y":0.4},{"x":28,"y":0.0},{"x":32,"y":0.8},{"x":4,"y":-0.3},{"x":6,"y":-0.5},{"x":7,"y":-1.8},{"x":9,"y":-0.3},{"x":10,"y":-1.2},{"x":11,"y":-0.8},{"x":12,"y":-0.5},{"x":13,"y":-1.5},{"x":14,"y":-0.3},{"x":15,"y":-1.0},{"x":16,"y":-1.3},{"x":17,"y":-2.4},{"x":18,"y":-0.6},{"x":20,"y":-0.8},{"x":22,"y":-0.6},{"x":24,"y":-1.9},{"x":27,"y":-0.5},{"x":37,"y":-0.3},{"x":36,"y":-3.0},{"x":42,"y":0.1},{"x":43,"y":-2.2}],
"G1A":[{"x":25,"y":0.5},{"x":26,"y":0.2},{"x":27,"y":1.2},{"x":27.5,"y":0.1},{"x":28,"y":0.8},{"x":28.5,"y":-0.3},{"x":29,"y":1.3},{"x":29.5,"y":0.2},{"x":30,"y":0.6},{"x":30.5,"y":-0.1},{"x":31,"y":1.2},{"x":31.5,"y":0.4},{"x":32,"y":3.0},{"x":32.5,"y":1.4},{"x":33,"y":0.2},{"x":33.5,"y":1.8},{"x":34,"y":0.5},{"x":35,"y":1.4},{"x":35.5,"y":0.1},{"x":36,"y":0.8},{"x":37,"y":0.0},{"x":38,"y":0.1},{"x":38.5,"y":0.6},{"x":39,"y":-0.2},{"x":40,"y":0.0},{"x":40.5,"y":2.5},{"x":41,"y":0.6},{"x":42,"y":0.3},{"x":42.5,"y":2.2},{"x":44,"y":0.6},{"x":27,"y":-0.6},{"x":28,"y":-1.0},{"x":29,"y":-0.7},{"x":30,"y":-1.2},{"x":31,"y":-0.8},{"x":32,"y":-1.5},{"x":33,"y":-0.9},{"x":34,"y":-1.3},{"x":36,"y":-0.9},{"x":38,"y":-1.0},{"x":43,"y":-1.8},{"x":43.5,"y":-1.5},{"x":29,"y":-1.7},{"x":31,"y":-2.2},{"x":32.5,"y":-3.0},{"x":35,"y":-2.4}],
"G1W":[{"x":0.5,"y":0.5},{"x":0.6,"y":1.4},{"x":0.7,"y":0.3},{"x":0.8,"y":2.0},{"x":0.9,"y":0.8},{"x":1.0,"y":3.2},{"x":1.1,"y":0.2},{"x":1.2,"y":1.5},{"x":1.3,"y":0.4},{"x":1.4,"y":1.1},{"x":1.5,"y":0.0},{"x":1.6,"y":0.4},{"x":1.7,"y":0.2},{"x":1.8,"y":0.6},{"x":1.9,"y":0.0},{"x":2.0,"y":0.8},{"x":2.05,"y":0.2},{"x":2.1,"y":2.7},{"x":2.5,"y":0.4},{"x":2.6,"y":0.3},{"x":3.0,"y":0.4},{"x":3.6,"y":0.7},{"x":4.4,"y":-0.2},{"x":4.85,"y":2.4},{"x":0.6,"y":-0.5},{"x":0.7,"y":-1.3},{"x":0.8,"y":-0.4},{"x":0.9,"y":-1.5},{"x":1.0,"y":-0.8},{"x":1.1,"y":-0.1},{"x":1.2,"y":-1.0},{"x":1.3,"y":-0.6},{"x":1.4,"y":-1.8},{"x":1.6,"y":-0.7},{"x":1.7,"y":-2.3},{"x":1.8,"y":-0.5},{"x":2.0,"y":-1.1},{"x":3.4,"y":-0.4},{"x":3.6,"y":-1.4},{"x":4.0,"y":-0.4},{"x":4.85,"y":-1.7},{"x":0.7,"y":-2.0},{"x":0.6,"y":-3.0}],
"G1S":[{"x":25,"y":1.5},{"x":28,"y":1.0},{"x":30,"y":2.5},{"x":32,"y":0.7},{"x":35,"y":1.9},{"x":38,"y":0.3},{"x":40,"y":1.3},{"x":42,"y":0.4},{"x":45,"y":2.3},{"x":48,"y":3.1},{"x":50,"y":1.4},{"x":52,"y":0.5},{"x":55,"y":0.9},{"x":58,"y":0.2},{"x":60,"y":0.7},{"x":62,"y":0.1},{"x":65,"y":0.3},{"x":68,"y":0.6},{"x":72,"y":0.9},{"x":75,"y":0.3},{"x":80,"y":0.5},{"x":85,"y":0.1},{"x":100,"y":0.1},{"x":135,"y":0.9},{"x":175,"y":1.2},{"x":25,"y":-0.5},{"x":28,"y":-1.8},{"x":30,"y":-0.3},{"x":35,"y":-0.7},{"x":40,"y":-0.4},{"x":45,"y":-1.0},{"x":48,"y":-1.4},{"x":50,"y":-0.8},{"x":55,"y":-1.2},{"x":60,"y":-0.5},{"x":65,"y":-1.4},{"x":70,"y":-1.7},{"x":75,"y":-0.9},{"x":80,"y":-2.1},{"x":85,"y":-0.8},{"x":135,"y":-1.0},{"x":48,"y":-2.3},{"x":58,"y":-3.0},{"x":28,"y":-1.4}]
},
"vconcat":[
{"columns":5,"bounds":"flush","spacing":{"row":13,"column":23},"concat":[
{"title":"Model B","data":{"name":"BT"},"mark":"point","width":126,"height":94,"encoding":{"x":{"field":"x","type":"quantitative","scale":{"domain":[0,600]},"axis":{"title":"Time","values":[0,100,200,300,400,500,600],"offset":-40.3,"titleY":43}},"y":{"field":"y","type":"quantitative","title":"NPDE","scale":{"domain":[-3,4]}}}},
{"title":"Model B1","data":{"name":"B1T"},"mark":"point","width":126,"height":94,"encoding":{"x":{"field":"x","type":"quantitative","scale":{"domain":[0,600]},"axis":{"title":"Time","values":[0,100,200,300,400,500,600],"offset":-40.3,"titleY":43}},"y":{"field":"y","type":"quantitative","title":"NPDE","scale":{"domain":[-3,4]}}}},
{"title":"Model C","data":{"name":"CT"},"mark":"point","width":126,"height":94,"encoding":{"x":{"field":"x","type":"quantitative","scale":{"domain":[0,600]},"axis":{"title":"Time","values":[0,100,200,300,400,500,600],"offset":-47,"titleY":43}},"y":{"field":"y","type":"quantitative","title":"NPDE","scale":{"domain":[-4,4]}}}},
{"title":"Model D","data":{"name":"DT"},"mark":"point","width":126,"height":94,"encoding":{"x":{"field":"x","type":"quantitative","scale":{"domain":[0,600]},"axis":{"title":"Time","values":[0,100,200,300,400,500,600],"offset":-47,"titleY":43}},"y":{"field":"y","type":"quantitative","title":"NPDE","scale":{"domain":[-4,4]}}}},
{"title":"Model E","data":{"name":"ET"},"mark":"point","width":126,"height":94,"encoding":{"x":{"field":"x","type":"quantitative","scale":{"domain":[0,600]},"axis":{"title":"Time","values":[0,100,200,300,400,500,600],"offset":-47,"titleY":43}},"y":{"field":"y","type":"quantitative","title":"NPDE","scale":{"domain":[-4,4]}}}},
{"data":{"name":"BP"},"mark":"point","width":126,"height":94,"encoding":{"x":{"field":"x","type":"quantitative","scale":{"domain":[0,50]},"axis":{"title":"PRED","values":[0,10,20,30,40,50],"offset":-40.3,"titleY":43}},"y":{"field":"y","type":"quantitative","title":"NPDE","scale":{"domain":[-3,4]}}}},
{"data":{"name":"B1P"},"mark":"point","width":126,"height":94,"encoding":{"x":{"field":"x","type":"quantitative","scale":{"domain":[0,60]},"axis":{"title":"PRED","values":[0,10,20,30,40,50,60],"offset":-40.3,"titleY":43}},"y":{"field":"y","type":"quantitative","title":"NPDE","scale":{"domain":[-3,4]}}}},
{"data":{"name":"CP"},"mark":"point","width":126,"height":94,"encoding":{"x":{"field":"x","type":"quantitative","scale":{"domain":[0,60]},"axis":{"title":"PRED","values":[0,10,20,30,40,50,60],"offset":-47,"titleY":43}},"y":{"field":"y","type":"quantitative","title":"NPDE","scale":{"domain":[-4,4]}}}},
{"data":{"name":"DP"},"mark":"point","width":126,"height":94,"encoding":{"x":{"field":"x","type":"quantitative","scale":{"domain":[0,60]},"axis":{"title":"PRED","values":[0,10,20,30,40,50,60],"offset":-47,"titleY":43}},"y":{"field":"y","type":"quantitative","title":"NPDE","scale":{"domain":[-4,4]}}}},
{"data":{"name":"EP"},"mark":"point","width":126,"height":94,"encoding":{"x":{"field":"x","type":"quantitative","scale":{"domain":[0,50]},"axis":{"title":"PRED","values":[0,10,20,30,40,50],"offset":-47,"titleY":43}},"y":{"field":"y","type":"quantitative","title":"NPDE","scale":{"domain":[-4,4]}}}},
{"data":{"name":"BA"},"mark":"point","width":126,"height":94,"encoding":{"x":{"field":"x","type":"quantitative","scale":{"domain":[24,49]},"axis":{"title":"PMA (weeks)","values":[24,29,34,39,44,49],"offset":-40.3,"titleY":43}},"y":{"field":"y","type":"quantitative","title":"NPDE","scale":{"domain":[-3,4]}}}},
{"data":{"name":"B1A"},"mark":"point","width":126,"height":94,"encoding":{"x":{"field":"x","type":"quantitative","scale":{"domain":[24,49]},"axis":{"title":"PMA (weeks)","values":[24,29,34,39,44,49],"offset":-40.3,"titleY":43}},"y":{"field":"y","type":"quantitative","title":"NPDE","scale":{"domain":[-3,4]}}}},
{"data":{"name":"CA"},"mark":"point","width":126,"height":94,"encoding":{"x":{"field":"x","type":"quantitative","scale":{"domain":[24,49]},"axis":{"title":"PMA (weeks)","values":[24,29,34,39,44,49],"offset":-47,"titleY":43}},"y":{"field":"y","type":"quantitative","title":"NPDE","scale":{"domain":[-4,4]}}}},
{"data":{"name":"DA"},"mark":"point","width":126,"height":94,"encoding":{"x":{"field":"x","type":"quantitative","scale":{"domain":[24,49]},"axis":{"title":"PMA (weeks)","values":[24,29,34,39,44,49],"offset":-47,"titleY":43}},"y":{"field":"y","type":"quantitative","title":"NPDE","scale":{"domain":[-4,4]}}}},
{"data":{"name":"EA"},"mark":"point","width":126,"height":94,"encoding":{"x":{"field":"x","type":"quantitative","scale":{"domain":[24,49]},"axis":{"title":"PMA (weeks)","values":[24,29,34,39,44,49],"offset":-47,"titleY":43}},"y":{"field":"y","type":"quantitative","title":"NPDE","scale":{"domain":[-4,4]}}}},
{"data":{"name":"BW"},"mark":"point","width":126,"height":94,"encoding":{"x":{"field":"x","type":"quantitative","scale":{"domain":[0,6]},"axis":{"title":"WT (kg)","values":[0,1,2,3,4,5,6],"offset":-40.3,"titleY":43}},"y":{"field":"y","type":"quantitative","title":"NPDE","scale":{"domain":[-3,4]}}}},
{"data":{"name":"B1W"},"mark":"point","width":126,"height":94,"encoding":{"x":{"field":"x","type":"quantitative","scale":{"domain":[0,6]},"axis":{"title":"WT (kg)","values":[0,1,2,3,4,5,6],"offset":-40.3,"titleY":43}},"y":{"field":"y","type":"quantitative","title":"NPDE","scale":{"domain":[-3,4]}}}},
{"data":{"name":"CW"},"mark":"point","width":126,"height":94,"encoding":{"x":{"field":"x","type":"quantitative","scale":{"domain":[0,6]},"axis":{"title":"WT (kg)","values":[0,1,2,3,4,5,6],"offset":-47,"titleY":43}},"y":{"field":"y","type":"quantitative","title":"NPDE","scale":{"domain":[-4,4]}}}},
{"data":{"name":"DW"},"mark":"point","width":126,"height":94,"encoding":{"x":{"field":"x","type":"quantitative","scale":{"domain":[0,6]},"axis":{"title":"WT (kg)","values":[0,1,2,3,4,5,6],"offset":-47,"titleY":43}},"y":{"field":"y","type":"quantitative","title":"NPDE","scale":{"domain":[-4,4]}}}},
{"data":{"name":"EW"},"mark":"point","width":126,"height":94,"encoding":{"x":{"field":"x","type":"quantitative","scale":{"domain":[0,6]},"axis":{"title":"WT (kg)","values":[0,1,2,3,4,5,6],"offset":-47,"titleY":43}},"y":{"field":"y","type":"quantitative","title":"NPDE","scale":{"domain":[-4,4]}}}},
{"data":{"name":"BS"},"mark":"point","width":126,"height":94,"encoding":{"x":{"field":"x","type":"quantitative","scale":{"domain":[0,200]},"axis":{"title":"Serum creatinine concentration","values":[0,50,100,150,200],"offset":-40.3,"titleY":43}},"y":{"field":"y","type":"quantitative","title":"NPDE","scale":{"domain":[-3,4]}}}},
{"data":{"name":"B1S"},"mark":"point","width":126,"height":94,"encoding":{"x":{"field":"x","type":"quantitative","scale":{"domain":[0,200]},"axis":{"title":"Serum creatinine concentration","values":[0,50,100,150,200],"offset":-40.3,"titleY":43}},"y":{"field":"y","type":"quantitative","title":"NPDE","scale":{"domain":[-3,4]}}}},
{"data":{"name":"CS"},"mark":"point","width":126,"height":94,"encoding":{"x":{"field":"x","type":"quantitative","scale":{"domain":[0,200]},"axis":{"title":"Serum creatinine concentration","values":[0,50,100,150,200],"offset":-47,"titleY":43}},"y":{"field":"y","type":"quantitative","title":"NPDE","scale":{"domain":[-4,4]}}}},
{"data":{"name":"DS"},"mark":"point","width":126,"height":94,"encoding":{"x":{"field":"x","type":"quantitative","scale":{"domain":[0,200]},"axis":{"title":"Serum creatinine concentration","values":[0,50,100,150,200],"offset":-47,"titleY":43}},"y":{"field":"y","type":"quantitative","title":"NPDE","scale":{"domain":[-4,4]}}}},
{"data":{"name":"ES"},"mark":"point","width":126,"height":94,"encoding":{"x":{"field":"x","type":"quantitative","scale":{"domain":[0,200]},"axis":{"title":"Serum creatinine concentration","values":[0,50,100,150,200],"offset":-47,"titleY":43}},"y":{"field":"y","type":"quantitative","title":"NPDE","scale":{"domain":[-4,4]}}}}
]},
{"columns":4,"bounds":"flush","spacing":{"row":16,"column":25},"concat":[
{"title":{"text":"Model F","offset":-14},"data":{"name":"FT"},"mark":"point","width":143,"height":100,"encoding":{"x":{"field":"x","type":"quantitative","scale":{"domain":[0,600]},"axis":{"title":"Time","values":[0,100,200,300,400,500,600],"offset":-50,"titleY":49}},"y":{"field":"y","type":"quantitative","title":"NPDE","scale":{"domain":[-4,4]}}}},
{"title":{"text":"Model F1","offset":-14},"data":{"name":"F1T"},"mark":"point","width":143,"height":100,"encoding":{"x":{"field":"x","type":"quantitative","scale":{"domain":[0,600]},"axis":{"title":"Time","values":[0,100,200,300,400,500,600],"offset":-50,"titleY":49}},"y":{"field":"y","type":"quantitative","title":"NPDE","scale":{"domain":[-4,4]}}}},
{"title":{"text":"Model G","offset":-14},"data":{"name":"GT"},"mark":"point","width":143,"height":100,"encoding":{"x":{"field":"x","type":"quantitative","scale":{"domain":[0,600]},"axis":{"title":"Time","values":[0,100,200,300,400,500,600],"offset":-50,"titleY":49}},"y":{"field":"y","type":"quantitative","title":"NPDE","scale":{"domain":[-4,4]}}}},
{"title":{"text":"Model G1","offset":-14},"data":{"name":"G1T"},"mark":"point","width":143,"height":100,"encoding":{"x":{"field":"x","type":"quantitative","scale":{"domain":[0,600]},"axis":{"title":"Time","values":[0,100,200,300,400,500,600],"offset":-50,"titleY":49}},"y":{"field":"y","type":"quantitative","title":"NPDE","scale":{"domain":[-4,4]}}}},
{"data":{"name":"FP"},"mark":"point","width":143,"height":100,"encoding":{"x":{"field":"x","type":"quantitative","scale":{"domain":[0,50]},"axis":{"title":"PRED","values":[0,10,20,30,40,50],"offset":-50,"titleY":49}},"y":{"field":"y","type":"quantitative","title":"NPDE","scale":{"domain":[-4,4]}}}},
{"data":{"name":"F1P"},"mark":"point","width":143,"height":100,"encoding":{"x":{"field":"x","type":"quantitative","scale":{"domain":[0,60]},"axis":{"title":"PRED","values":[0,10,20,30,40,50,60],"offset":-50,"titleY":49}},"y":{"field":"y","type":"quantitative","title":"NPDE","scale":{"domain":[-4,4]}}}},
{"data":{"name":"GP"},"mark":"point","width":143,"height":100,"encoding":{"x":{"field":"x","type":"quantitative","scale":{"domain":[0,50]},"axis":{"title":"PRED","values":[0,10,20,30,40,50],"offset":-50,"titleY":49}},"y":{"field":"y","type":"quantitative","title":"NPDE","scale":{"domain":[-4,4]}}}},
{"data":{"name":"G1P"},"mark":"point","width":143,"height":100,"encoding":{"x":{"field":"x","type":"quantitative","scale":{"domain":[0,50]},"axis":{"title":"PRED","values":[0,10,20,30,40,50],"offset":-50,"titleY":49}},"y":{"field":"y","type":"quantitative","title":"NPDE","scale":{"domain":[-4,4]}}}},
{"data":{"name":"FA"},"mark":"point","width":143,"height":100,"encoding":{"x":{"field":"x","type":"quantitative","scale":{"domain":[24,49]},"axis":{"title":"PMA (weeks)","values":[24,29,34,39,44,49],"offset":-50,"titleY":49}},"y":{"field":"y","type":"quantitative","title":"NPDE","scale":{"domain":[-4,4]}}}},
{"data":{"name":"F1A"},"mark":"point","width":143,"height":100,"encoding":{"x":{"field":"x","type":"quantitative","scale":{"domain":[24,49]},"axis":{"title":"PMA (weeks)","values":[24,29,34,39,44,49],"offset":-50,"titleY":49}},"y":{"field":"y","type":"quantitative","title":"NPDE","scale":{"domain":[-4,4]}}}},
{"data":{"name":"GA"},"mark":"point","width":143,"height":100,"encoding":{"x":{"field":"x","type":"quantitative","scale":{"domain":[24,49]},"axis":{"title":"PMA (weeks)","values":[24,29,34,39,44,49],"offset":-50,"titleY":49}},"y":{"field":"y","type":"quantitative","title":"NPDE","scale":{"domain":[-4,4]}}}},
{"data":{"name":"G1A"},"mark":"point","width":143,"height":100,"encoding":{"x":{"field":"x","type":"quantitative","scale":{"domain":[24,49]},"axis":{"title":"PMA (weeks)","values":[24,29,34,39,44,49],"offset":-50,"titleY":49}},"y":{"field":"y","type":"quantitative","title":"NPDE","scale":{"domain":[-4,4]}}}},
{"data":{"name":"FW"},"mark":"point","width":143,"height":100,"encoding":{"x":{"field":"x","type":"quantitative","scale":{"domain":[0,6]},"axis":{"title":"WT (kg)","values":[0,1,2,3,4,5,6],"offset":-50,"titleY":49}},"y":{"field":"y","type":"quantitative","title":"NPDE","scale":{"domain":[-4,4]}}}},
{"data":{"name":"F1W"},"mark":"point","width":143,"height":100,"encoding":{"x":{"field":"x","type":"quantitative","scale":{"domain":[0,6]},"axis":{"title":"WT (kg)","values":[0,1,2,3,4,5,6],"offset":-50,"titleY":49}},"y":{"field":"y","type":"quantitative","title":"NPDE","scale":{"domain":[-4,4]}}}},
{"data":{"name":"GW"},"mark":"point","width":143,"height":100,"encoding":{"x":{"field":"x","type":"quantitative","scale":{"domain":[0,6]},"axis":{"title":"WT (kg)","values":[0,1,2,3,4,5,6],"offset":-50,"titleY":49}},"y":{"field":"y","type":"quantitative","title":"NPDE","scale":{"domain":[-4,4]}}}},
{"data":{"name":"G1W"},"mark":"point","width":143,"height":100,"encoding":{"x":{"field":"x","type":"quantitative","scale":{"domain":[0,6]},"axis":{"title":"WT (kg)","values":[0,1,2,3,4,5,6],"offset":-50,"titleY":49}},"y":{"field":"y","type":"quantitative","title":"NPDE","scale":{"domain":[-4,4]}}}},
{"data":{"name":"FS"},"mark":"point","width":143,"height":100,"encoding":{"x":{"field":"x","type":"quantitative","scale":{"domain":[0,200]},"axis":{"title":"Serum creatinine concentration","values":[0,50,100,150,200],"offset":-50,"titleY":49}},"y":{"field":"y","type":"quantitative","title":"NPDE","scale":{"domain":[-4,4]}}}},
{"data":{"name":"F1S"},"mark":"point","width":143,"height":100,"encoding":{"x":{"field":"x","type":"quantitative","scale":{"domain":[0,200]},"axis":{"title":"Serum creatinine concentration","values":[0,50,100,150,200],"offset":-50,"titleY":49}},"y":{"field":"y","type":"quantitative","title":"NPDE","scale":{"domain":[-4,4]}}}},
{"data":{"name":"GS"},"mark":"point","width":143,"height":100,"encoding":{"x":{"field":"x","type":"quantitative","scale":{"domain":[0,200]},"axis":{"title":"Serum creatinine concentration","values":[0,50,100,150,200],"offset":-50,"titleY":49}},"y":{"field":"y","type":"quantitative","title":"NPDE","scale":{"domain":[-4,4]}}}},
{"data":{"name":"G1S"},"mark":"point","width":143,"height":100,"encoding":{"x":{"field":"x","type":"quantitative","scale":{"domain":[0,200]},"axis":{"title":"Serum creatinine concentration","values":[0,50,100,150,200],"offset":-50,"titleY":49}},"y":{"field":"y","type":"quantitative","title":"NPDE","scale":{"domain":[-4,4]}}}}
]}
]
}
